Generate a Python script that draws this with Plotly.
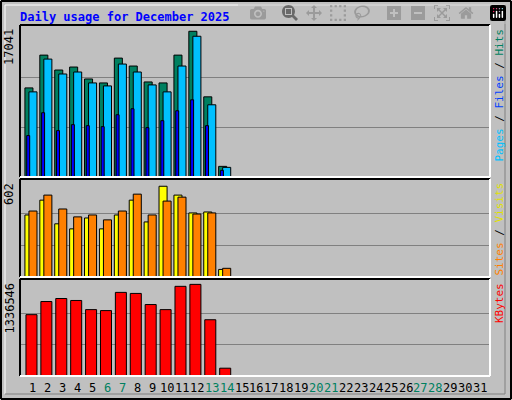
import plotly.graph_objects as go

days = list(range(1, 32))
data_days = list(range(1, 15))
hits = [10190, 13940, 12235, 12576, 11213, 10759, 13599, 12690, 10872, 10759, 13940, 16666, 9168, 1216]
files = [9736, 13485, 11781, 12008, 10759, 10418, 12917, 12008, 10532, 9736, 12690, 16098, 8259, 1102]
pages = [4737, 7350, 5305, 5987, 5873, 5760, 7123, 7805, 5646, 6441, 7577, 8827, 5873, 761]
sites = [393, 487, 337, 305, 374, 305, 393, 487, 349, 575, 519, 406, 412, 48]
visits = [418, 519, 431, 381, 393, 362, 418, 525, 393, 481, 506, 399, 406, 55]
kbytes = [872000, 1059000, 1102000, 1074000, 944000, 930000, 1189000, 1174000, 1016000, 944000, 1275000, 1303000, 800000, 111000]
weekend = [6, 7, 13, 14, 20, 21, 27, 28]
max_hits, max_visits, max_kb = 17041, 602, 1336546

W, H = 512, 400
def py(v): return 1 - v / H

fig = go.Figure()
line = dict(color="black", width=1)
def bar(x, y, color, off, w, yaxis):
    fig.add_trace(go.Bar(x=x, y=y, marker=dict(color=color, line=line), offset=off, width=w,
                         yaxis=yaxis, hoverinfo="skip"))

bar(data_days, hits, "#008060", -0.54, 0.54, "y")
bar(data_days, files, "#00C0FF", -0.27, 0.54, "y")
bar(data_days, pages, "#0000FF", -0.42, 0.2, "y")
bar(data_days, sites, "#FFFF00", -0.54, 0.54, "y2")
bar(data_days, visits, "#FF8000", -0.27, 0.54, "y2")
bar(data_days, kbytes, "#FF0000", -0.47, 0.74, "y3")

ax = dict(showticklabels=False, showline=False, zeroline=False, gridcolor="#808080", gridwidth=1, ticks="")
panels = [(25, 177), (179, 277), (279, 376)]
maxes = [max_hits, max_visits, max_kb]
yaxes = {}
for i, ((t, b), m) in enumerate(zip(panels, maxes)):
    key = "yaxis" if i == 0 else f"yaxis{i+1}"
    yaxes[key] = dict(ax, domain=[py(b), py(t)], range=[0, m * (b - t) / (b - t - 3)],
                      tickvals=[m / 3, 2 * m / 3])

fig.update_layout(
    width=W, height=H, margin=dict(l=0, r=0, t=0, b=0),
    paper_bgcolor="#C0C0C0", plot_bgcolor="#C0C0C0", showlegend=False, barmode="overlay",
    xaxis=dict(range=[0.13, 31.67], domain=[20 / W, 490 / W], showticklabels=False,
               showgrid=False, zeroline=False, showline=False, ticks=""),
    font=dict(family="DejaVu Sans Mono", size=11, color="black"),
    **yaxes,
)

shapes = []
def frame(x0, y0, x1, y1, tl, br, w=1):
    shapes.extend([
        dict(type="line", xref="paper", yref="paper", x0=x0/W, x1=x1/W, y0=py(y0), y1=py(y0), line=dict(color=tl, width=w)),
        dict(type="line", xref="paper", yref="paper", x0=x0/W, x1=x0/W, y0=py(y0), y1=py(y1), line=dict(color=tl, width=w)),
        dict(type="line", xref="paper", yref="paper", x0=x0/W, x1=x1/W, y0=py(y1), y1=py(y1), line=dict(color=br, width=w)),
        dict(type="line", xref="paper", yref="paper", x0=x1/W, x1=x1/W, y0=py(y0), y1=py(y1), line=dict(color=br, width=w)),
    ])
frame(1, 1, 511, 399, "black", "black", 2)
frame(5, 5, 505, 394, "white", "#808080", 1)
for t, b in panels:
    frame(20, t, 490, b, "black", "white", 2)
fig.update_layout(shapes=shapes)

ann = [dict(text="<b>Daily usage for December 2025</b>", x=18/W, y=py(8), xref="paper", yref="paper",
            xanchor="left", yanchor="top", showarrow=False, font=dict(color="#0000FF", size=12))]
for (t, b), m in zip(panels, maxes):
    ann.append(dict(text=str(m), x=18/W, y=py(t + 2), xref="paper", yref="paper", xanchor="right",
                    yanchor="top", textangle=-90, showarrow=False, font=dict(size=12)))
rlabels = [
    ('<span style="color:#00C0FF">Pages</span> / <span style="color:#0040FF">Files</span> / <span style="color:#008060">Hits</span>', 25),
    ('<span style="color:#FF8000">Sites</span> / <span style="color:#E0E000">Visits</span>', 179),
    ('<span style="color:#FF0000">KBytes</span>', 279),
]
for txt, t in rlabels:
    ann.append(dict(text=txt, x=499/W, y=py(t + 2), xref="paper", yref="paper", xanchor="center",
                    yanchor="top", textangle=-90, showarrow=False, font=dict(size=11)))
for d in days:
    ann.append(dict(text=str(d), x=d, y=py(388), xref="x", yref="paper", yanchor="middle",
                    showarrow=False, font=dict(size=12, color="#008060" if d in weekend else "black")))
fig.update_layout(annotations=ann)

fig.write_html("out.html", post_script="document.body.style.margin='0';document.body.style.overflow='hidden';")
